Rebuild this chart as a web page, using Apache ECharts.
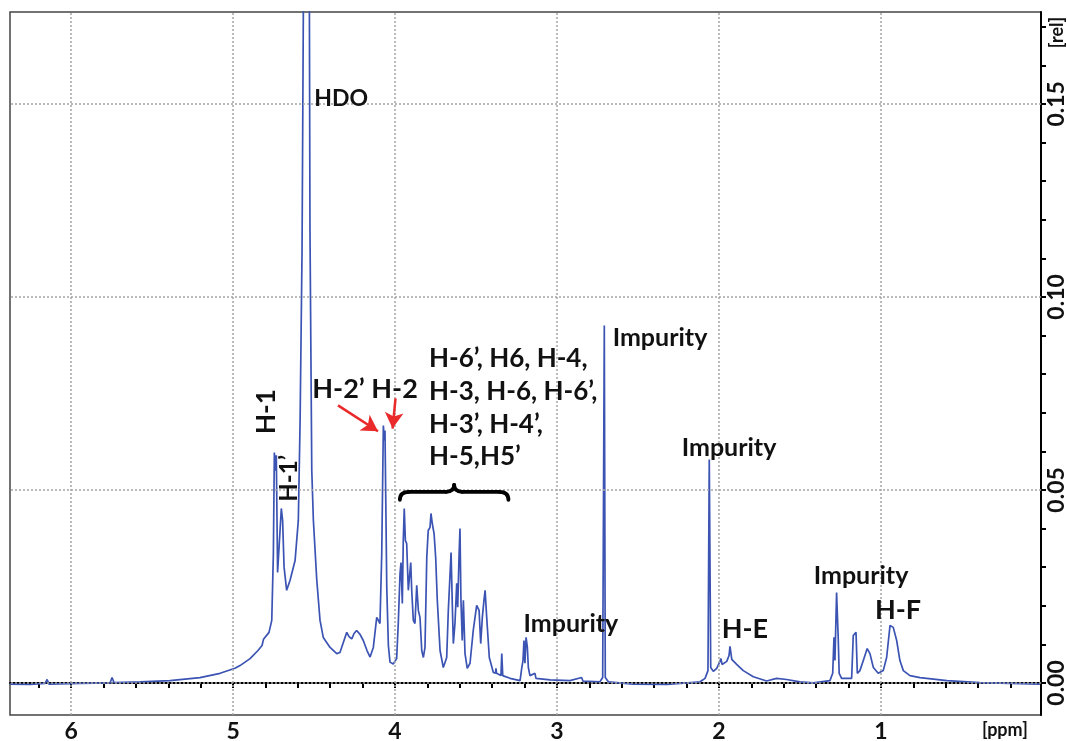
<!DOCTYPE html>
<html>
<head>
<meta charset="utf-8">
<script src="https://cdn.jsdelivr.net/npm/echarts@6/dist/echarts.min.js"></script>
<style>
html, body { margin: 0; padding: 0; background: #fff; }
#main { width: 1067px; height: 741px; }
</style>
</head>
<body>
<div id="main"></div>
<script>
// chemical shift [ppm] / intensity [rel]
const downfield = [
    [6.377, -0.0003], [6.253, -0.0004], [6.160, -0.0001], [6.148, 0.0009], [6.136, -0.0003],
    [5.944, -0.0001], [5.759, 0], [5.747, 0.0014], [5.735, 0.0001], [5.574, 0.0003],
    [5.389, 0.0006], [5.204, 0.0014], [5.080, 0.0025], [4.988, 0.0038], [4.957, 0.0045],
    [4.895, 0.0063], [4.846, 0.0084], [4.821, 0.0097], [4.812, 0.0113], [4.802, 0.0108],
    [4.778, 0.0131], [4.761, 0.0162], [4.751, 0.0335], [4.745, 0.0597], [4.738, 0.055],
    [4.733, 0.059], [4.725, 0.0286], [4.715, 0.0284], [4.702, 0.0452], [4.694, 0.0421],
    [4.685, 0.0300], [4.669, 0.0240], [4.648, 0.0266], [4.617, 0.0317], [4.597, 0.0421],
    [4.586, 0.0680], [4.574, 0.112], [4.566, 0.174], [4.562, 0.35], [4.549, 0.8],
    [4.534, 0.35], [4.529, 0.18], [4.525, 0.1172], [4.514, 0.0551], [4.504, 0.0421],
    [4.483, 0.0266], [4.463, 0.0162], [4.443, 0.0118], [4.401, 0.0092], [4.360, 0.0076],
    [4.340, 0.0079], [4.315, 0.0110], [4.298, 0.0131], [4.284, 0.0120], [4.267, 0.0114],
    [4.253, 0.0128], [4.237, 0.0136], [4.216, 0.0126], [4.196, 0.0110], [4.173, 0.0084],
    [4.154, 0.0067], [4.134, 0.0092], [4.113, 0.0170], [4.103, 0.0162], [4.093, 0.0154],
    [4.082, 0.0335], [4.072, 0.0667], [4.066, 0.0628], [4.062, 0.0654], [4.051, 0.0247],
    [4.041, 0.0097], [4.031, 0.0054]
];
const sugarRegion = [
    [4.011, 0.0049], [3.990, 0.0063], [3.980, 0.0154], [3.969, 0.0284], [3.963, 0.0312],
    [3.955, 0.0206], [3.949, 0.0369], [3.943, 0.0452], [3.936, 0.0369], [3.928, 0.0361],
    [3.918, 0.0240], [3.903, 0.0312], [3.897, 0.0240], [3.887, 0.0162], [3.877, 0.0154],
    [3.866, 0.0253], [3.856, 0.0188], [3.846, 0.0170], [3.835, 0.0084], [3.825, 0.0066],
    [3.815, 0.0092], [3.804, 0.0325], [3.795, 0.0395], [3.784, 0.0403], [3.778, 0.0439],
    [3.770, 0.0413], [3.759, 0.0387], [3.749, 0.0325], [3.739, 0.0214], [3.722, 0.0084],
    [3.702, 0.0040], [3.681, 0.0066], [3.671, 0.0188], [3.660, 0.0284], [3.654, 0.0338],
    [3.646, 0.0196], [3.640, 0.0102], [3.630, 0.0154], [3.619, 0.0258], [3.613, 0.0196],
    [3.605, 0.0325], [3.599, 0.0400], [3.593, 0.0214], [3.585, 0.0110], [3.578, 0.0214],
    [3.568, 0.0076], [3.554, 0.0038], [3.537, 0.0051], [3.517, 0.0136], [3.496, 0.0201],
    [3.481, 0.0188], [3.471, 0.0102], [3.461, 0.0170], [3.451, 0.0214], [3.444, 0.0240],
    [3.434, 0.0170], [3.418, 0.0066], [3.393, 0.0027], [3.380, 0.0025], [3.377, 0.0038],
    [3.373, 0.0025], [3.346, 0.0019], [3.341, 0.0076], [3.335, 0.0019], [3.290, 0.0012],
    [3.228, 0.0006], [3.218, 0.0038], [3.210, 0.0058], [3.204, 0.0110], [3.198, 0.0051],
    [3.191, 0.0118], [3.183, 0.0092], [3.177, 0.0040], [3.167, 0.0019], [3.136, 0.0025],
    [3.130, 0.0012]
];
const upfield = [
    [3.043, 0.0008], [2.920, 0.0006], [2.848, 0.0014], [2.840, 0.0005], [2.735, 0.0003],
    [2.718, 0.0014], [2.708, 0.0926], [2.702, 0.0014], [2.683, 0.0003], [2.531, -0.0003],
    [2.321, -0.0004], [2.117, 0.0003], [2.086, 0.0012], [2.068, 0.0032], [2.060, 0.0579],
    [2.051, 0.0040], [2.035, 0.0030], [2.014, 0.0038], [1.994, 0.0056], [1.988, 0.0063],
    [1.981, 0.0048], [1.952, 0.0056], [1.938, 0.0071], [1.932, 0.0095], [1.921, 0.0061],
    [1.891, 0.0048], [1.850, 0.0032], [1.788, 0.0016], [1.706, 0.0005], [1.644, 0.0012],
    [1.582, 0.0009], [1.500, 0.0003], [1.418, 0], [1.315, 0.0006], [1.298, 0.0025],
    [1.290, 0.0118], [1.284, 0.0058], [1.274, 0.0234], [1.264, 0.0118], [1.258, 0.0025],
    [1.243, 0.0012], [1.181, 0.0012], [1.171, 0.0123], [1.160, 0.0118], [1.154, 0.0131],
    [1.146, 0.0025], [1.130, 0.0032], [1.109, 0.0058], [1.085, 0.0089], [1.068, 0.0076],
    [1.047, 0.0040], [1.017, 0.0025], [0.986, 0.0032], [0.965, 0.0066], [0.944, 0.0149],
    [0.924, 0.0144], [0.903, 0.0110], [0.883, 0.0058], [0.862, 0.0032], [0.821, 0.0019],
    [0.759, 0.0014], [0.593, 0.0006], [0.389, 0.0001], [0.204, -0.0001], [0.019, -0.0003]
];

// axis ticks / labels / grid lines
const ppmTicks = [0.2, 0.4, 0.6, 0.8, 1, 1.2, 1.4, 1.6, 1.8, 2, 2.2, 2.4, 2.6, 2.8, 3, 3.2,
    3.4, 3.6, 3.8, 4, 4.2, 4.4, 4.6, 4.8, 5, 5.2, 5.4, 5.6, 5.8, 6, 6.2];
const ppmLabels = [1, 2, 3, 4, 5, 6];
const relTicks = [0, 0.01, 0.02, 0.03, 0.04, 0.05, 0.06, 0.07, 0.08, 0.09, 0.1, 0.11, 0.12,
    0.13, 0.14, 0.15, 0.16, 0.17];
const relLabels = [0, 0.05, 0.1, 0.15];

// peak annotations: text + anchor (ppm, rel)
const annotations = [
    {text: 'HDO', ppm: 4.333, rel: 0.1514, size: 23},
    {text: 'H-1', ppm: 4.790, rel: 0.0703, size: 26, vertical: true},
    {text: 'H-1’', ppm: 4.654, rel: 0.0530, size: 24, vertical: true},
    {text: 'H-2’ H-2', ppm: 4.185, rel: 0.0760, size: 27},
    {text: 'H-6’, H6, H-4,', ppm: 3.790, rel: 0.0841, size: 26, left: true},
    {text: 'H-3, H-6, H-6’,', ppm: 3.790, rel: 0.0755, size: 26, left: true},
    {text: 'H-3’, H-4’,', ppm: 3.790, rel: 0.0670, size: 26, left: true},
    {text: 'H-5,H5’', ppm: 3.790, rel: 0.0587, size: 26, left: true},
    {text: 'Impurity', ppm: 2.364, rel: 0.0895, size: 25},
    {text: 'Impurity', ppm: 1.938, rel: 0.0610, size: 25},
    {text: 'Impurity', ppm: 2.914, rel: 0.0154, size: 25},
    {text: 'H-E', ppm: 1.840, rel: 0.0139, size: 27},
    {text: 'Impurity', ppm: 1.123, rel: 0.0276, size: 25},
    {text: 'H-F', ppm: 0.895, rel: 0.0188, size: 27},
    {text: '[ppm]', ppm: 0.235, rel: -0.0083, size: 18, dy: 15},
    {text: '[rel]', ppm: 0.012, rel: 0.1685, size: 18, vertical: true, dx: 16}
];
const arrows = [
    [[4.352, 0.0719], [4.105, 0.0652]],
    [[3.997, 0.0737], [4.015, 0.0659]]
];
const brace = {from: 3.97, to: 3.30, rel: 0.0495};

const FONT = 'Lato, "Open Sans", sans-serif';
const spectrum = downfield.concat(sugarRegion, upfield);

let chart = echarts.init(document.getElementById('main'));

let option = {
    animation: false,
    backgroundColor: '#fff',
    grid: {
        left: 10, right: 26, top: 12, bottom: 26,
        show: true, borderColor: '#444', borderWidth: 1.5,
        containLabel: false, outerBoundsMode: 'none'
    },
    xAxis: {
        type: 'value', inverse: true, min: 0.012, max: 6.377,
        axisLine: {show: true, lineStyle: {color: '#000', width: 2}},
        axisTick: {show: true, customValues: ppmTicks, length: 5, lineStyle: {color: '#000', width: 2}},
        axisLabel: {
            customValues: ppmLabels, color: '#111', fontSize: 23, fontWeight: 'bold',
            fontFamily: FONT, margin: 5
        },
        splitLine: {show: false}
    },
    yAxis: {
        type: 'value', position: 'right', min: -0.0083, max: 0.1738,
        axisLine: {show: true, lineStyle: {color: '#000', width: 2}},
        axisTick: {show: true, customValues: relTicks, length: 5, lineStyle: {color: '#000', width: 2}},
        axisLabel: {
            customValues: relLabels, rotate: 90, color: '#111', fontSize: 23, fontWeight: 'bold',
            fontFamily: FONT, margin: 4,
            formatter: v => v.toFixed(2)
        },
        splitLine: {show: false}
    },
    series: [
        {
            // dotted grid
            type: 'line', data: [], z: 1, silent: true,
            markLine: {
                silent: true, symbol: ['none', 'none'], label: {show: false},
                lineStyle: {color: '#a5a5a5', type: [2, 2], width: 1.5},
                data: ppmLabels.map(v => ({xAxis: v})).concat(relLabels.map(v => ({yAxis: v})))
            }
        },
        {
            type: 'line', data: spectrum, z: 3, showSymbol: false, clip: true,
            lineStyle: {color: '#3b53b3', width: 1.7}
        },
        {
            // red arrows
            type: 'line', data: [], z: 4, silent: true,
            markLine: {
                silent: true, symbol: ['none', 'arrow'], symbolSize: [14, 16], label: {show: false},
                lineStyle: {color: '#ea2a2a', type: 'solid', width: 2.5},
                data: arrows.map(a => [{coord: a[0]}, {coord: a[1]}])
            }
        }
    ]
};
chart.setOption(option);

//把标注转成像素坐标
const toPx = (p, r) => chart.convertToPixel({gridIndex: 0}, [p, r]);
let graphics = annotations.map(a => {
    const pt = toPx(a.ppm, a.rel);
    return {
        type: 'text', x: pt[0] + (a.dx || 0), y: pt[1] + (a.dy || 0), z: 10,
        rotation: a.vertical ? Math.PI / 2 : 0,
        style: {
            text: a.text, fill: '#111',
            fontSize: a.size, fontWeight: 'bold', fontFamily: FONT,
            align: a.left ? 'left' : 'center', verticalAlign: 'middle'
        }
    };
});

// curly brace under the sugar-proton label
const b0 = toPx(brace.from, brace.rel), b1 = toPx(brace.to, brace.rel);
const x0 = b0[0], x1 = b1[0], yb = b0[1], xm = (x0 + x1) / 2;
const braceStyle = {stroke: '#000', lineWidth: 3.8, fill: null, lineCap: 'round'};
const curve = (ax, ay, cx, cy, bx, by) => ({
    type: 'bezierCurve', z: 10,
    shape: {x1: ax, y1: ay, x2: bx, y2: by, cpx1: cx, cpy1: cy},
    style: braceStyle
});
const seg = (ax, ay, bx, by) => ({
    type: 'line', z: 10, shape: {x1: ax, y1: ay, x2: bx, y2: by}, style: braceStyle
});
graphics.push(
    curve(x0, yb + 8, x0, yb, x0 + 9, yb),
    seg(x0 + 9, yb, xm - 8, yb),
    curve(xm - 8, yb, xm, yb, xm, yb - 7),
    curve(xm, yb - 7, xm, yb, xm + 8, yb),
    seg(xm + 8, yb, x1 - 9, yb),
    curve(x1 - 9, yb, x1, yb, x1, yb + 8)
);

chart.setOption({graphic: graphics});
</script>
</body>
</html>
